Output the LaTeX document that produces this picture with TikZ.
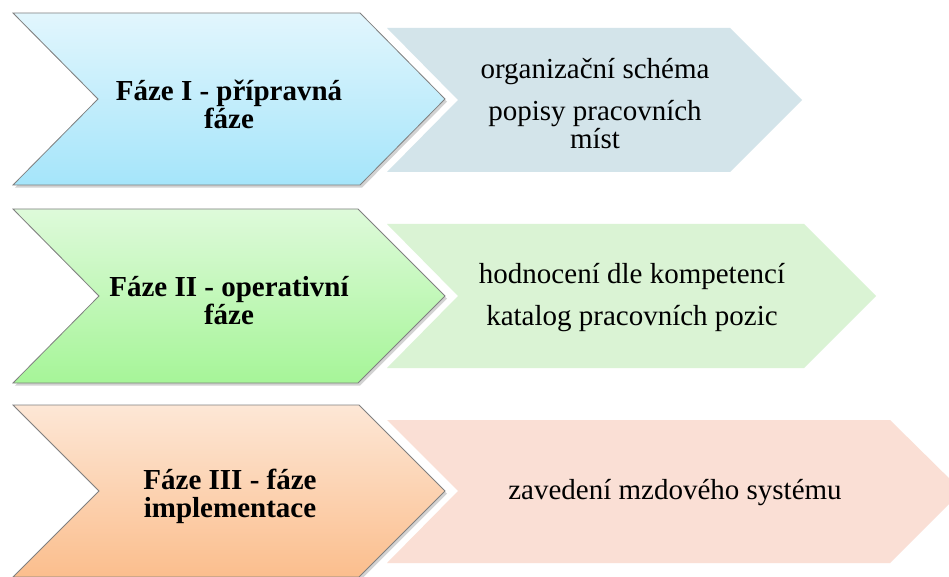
\documentclass[tikz,border=0pt]{standalone}
\usepackage{fontspec}
\setmainfont{Liberation Serif}
\usepackage{tikz}
\usetikzlibrary{shadows}
\definecolor{PrepTop}{RGB}{226,246,253}
\definecolor{PrepBottom}{RGB}{165,229,250}
\definecolor{PrepTask}{RGB}{211,228,234}
\definecolor{OperTop}{RGB}{222,250,218}
\definecolor{OperBottom}{RGB}{166,245,152}
\definecolor{OperTask}{RGB}{218,243,212}
\definecolor{ImplTop}{RGB}{253,231,214}
\definecolor{ImplBottom}{RGB}{251,190,141}
\definecolor{ImplTask}{RGB}{250,223,213}
\tikzset{
  phase/.style={draw=gray, line width=0.6pt,
    drop shadow={shadow xshift=1.5pt, shadow yshift=-2pt, opacity=0.35, fill=gray}},
  phasetext/.style={font=\fontsize{21.75}{21}\selectfont\bfseries, align=center, inner sep=0pt},
  tasktext/.style={font=\fontsize{21.75}{21}\selectfont, align=center, inner sep=0pt}
}

\begin{document}
\begin{tikzpicture}[x=0.75pt,y=-0.75pt]
          \clip (0,0) rectangle (949,577);
          \fill[white] (0,0) rectangle (949,577);
          % task chevrons
          \fill[PrepTask] (387,28) -- (730,28) -- (802,100) -- (730,172) -- (387,172) -- (458,100) -- cycle;
          \fill[OperTask] (387,224) -- (804,224) -- (876,296) -- (804,368) -- (387,368) -- (458,296) -- cycle;
          \fill[ImplTask] (387,420) -- (890,420) -- (962,491) -- (890,563) -- (387,563) -- (458,491) -- cycle;
          % phase chevrons
          \path[phase, top color=PrepTop, bottom color=PrepBottom] (13,13) -- (360,13) -- (445,99) -- (360,185) -- (13,185) -- (98,99) -- cycle;
          \path[phase, top color=OperTop, bottom color=OperBottom] (13,209) -- (358,209) -- (445,296) -- (358,383) -- (13,383) -- (99,296) -- cycle;
          \path[phase, top color=ImplTop, bottom color=ImplBottom] (13,405) -- (359,405) -- (445,491) -- (359,577) -- (13,577) -- (99,491) -- cycle;
          % texts
          \node[phasetext] (prep) at (229,104) {Fáze I - přípravná\\fáze};
          \node[phasetext] (oper) at (229,301) {Fáze II - operativní\\fáze};
          \node[phasetext] (impl) at (230,496) {Fáze III - fáze\\implementace};
          \node[tasktext] (preptask) at (595,104) {organizační schéma\\[10.5pt]popisy pracovních\\míst};
          \node[tasktext] (opertask) at (632,298) {hodnocení dle kompetencí\\[10.5pt]katalog pracovních pozic};
          \node[tasktext] (impltask) at (675,493) {zavedení mzdového systému};
    \end{tikzpicture}
\end{document}
